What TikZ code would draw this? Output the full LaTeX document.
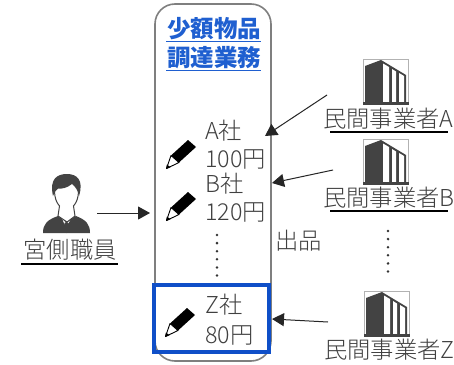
\documentclass[tikz,border=0pt]{standalone}
\usepackage{fontspec}
\setmainfont{Noto Sans CJK JP}
\newfontfamily\lightcjk{Noto Sans CJK JP Light}
\usetikzlibrary{arrows.meta}
\definecolor{inkgray}{HTML}{404040}
\definecolor{iconblack}{HTML}{434343}
\definecolor{framegray}{HTML}{7F7F7F}
\definecolor{headblue}{HTML}{1F5FD0}
\definecolor{boxblue}{HTML}{0F4FC8}
\tikzset{
  txt/.style={inner sep=0pt,text=inkgray,font=\lightcjk\fontsize{23.3}{23.3}\selectfont,anchor=west},
  head/.style={inner sep=0pt,text=headblue,font=\fontsize{23.5}{23.5}\selectfont\bfseries},
  conn/.style={draw=black!85,line width=1pt,-{Triangle[length=12pt,width=13pt]}},
  rule/.style={draw=black,line width=1.6pt},
  dotcol/.style={draw=black!80,line width=2.8pt,line cap=round,dash pattern=on 0pt off 8.1pt},
}
\newcommand{\pencilicon}[2]{%
  \begin{scope}[shift={(#1,#2)}]
    \fill[black] (22,-29) -- (30,-22) -- (13,-6.5) -- (5,-13.5) -- cycle;
    \draw[black,line width=0.9pt,fill=white,line join=round] (5,-13.5) -- (13,-6.5) -- (0.5,-0.5) -- cycle;
    \fill[black] (0,0) -- (0.9,-4.5) -- (4.5,-1.8) -- cycle;
  \end{scope}}
\newcommand{\buildingicon}[2]{%
  \begin{scope}[shift={(#1,#2)}]
    \draw[black!30,line width=0.5pt] (0,43) -- (0,0) -- (45,0) -- (45,43);
    \fill[iconblack] (2,7) -- (18,1) -- (43,16) -- (43,43) -- (2,43) -- cycle;
    \fill[white] (20,4.5) -- (26,8) -- (26,43) -- (20,43) -- cycle;
    \fill[white] (29,10) -- (33,12.5) -- (33,43) -- (29,43) -- cycle;
    \fill[white] (36,14) -- (41,17) -- (41,43) -- (36,43) -- cycle;
    \fill[iconblack] (0,43) rectangle (46,46);
  \end{scope}}
\begin{document}
\begin{tikzpicture}[x=1pt,y=-1pt]
\useasboundingbox (0,0) rectangle (454,364);
\fill[white] (0,0) rectangle (454,364);

% main rounded frame
\node[draw=framegray,line width=1.6pt,rounded corners=20pt,minimum width=116pt,minimum height=357pt,inner sep=0pt] (frame) at (213,182.5) {};

% title
\node[head] (t1) at (214,29) {少額物品};
\node[head] (t2) at (214,58) {調達業務};
\draw[headblue,line width=0.9pt] (166,41) -- (261,41) (166,70) -- (261,70);

% items
\pencilicon{166}{169}
\pencilicon{166}{221}
\pencilicon{165}{337}
\node[txt] (a1) at (205,131) {A社};
\node[txt] (a2) at (205,159) {100円};
\node[txt] (b1) at (205,184) {B社};
\node[txt] (b2) at (205,212) {120円};
\node[txt] (z1) at (205,305) {Z社};
\node[txt] (z2) at (205,335) {80円};

\draw[dotcol] (217,235) -- (217,277);
\draw[dotcol] (388,231) -- (388,272);

% highlighted box
\node[draw=boxblue,line width=4pt,minimum width=115pt,minimum height=67pt,inner sep=0pt] (zbox) at (211.5,318) {};

% official
\fill[iconblack] (43,233) .. controls (43,224) and (47,220) .. (58,216) -- (63,220) -- (66,232) -- (69,220) -- (76,216) .. controls (86,220) and (90,224) .. (90,233) -- cycle;
\fill[iconblack] (64,218) -- (69,218) -- (68.5,222) -- (69.5,231) -- (66.5,233) -- (63.5,231) -- (64.5,222) -- cycle;
\draw[white,line width=1pt] (60,214) -- (65,223) (73,214) -- (68,223);
\draw[iconblack,line width=1pt,fill=white] (58,216) -- (59.5,206) .. controls (56,202) and (55,198) .. (54.5,192) -- (54.5,182) -- (78.5,182) -- (78.5,192) .. controls (78,198) and (77,202) .. (73.5,206) -- (75,216) -- (67,222) -- cycle;
\fill[iconblack] (53,196) .. controls (49,178) and (58,174) .. (67,174) .. controls (77,174) and (84,180) .. (79,196) .. controls (78,191) and (76,187) .. (72,184) .. controls (67,188) and (62,189) .. (58,188.5) .. controls (56,190) and (54.5,192) .. (53,196) -- cycle;
\node[txt,anchor=center] (off) at (70,250) {宮側職員};
\draw[rule] (21,264) -- (118,264);

% vendors
\buildingicon{363}{59}
\buildingicon{363}{139}
\buildingicon{364}{291}
\node[txt] (va) at (323,119) {民間事業者A};
\draw[rule] (330,132) -- (448,132);
\node[txt] (vb) at (323,198) {民間事業者B};
\draw[rule] (330,211) -- (448,211);
\node[txt] (vz) at (324,350) {民間事業者Z};

\node[txt] (ship) at (275,241) {出品};

% connectors
\coordinate (offEnd) at (97,213);
\coordinate (offTip) at (150,213);
\coordinate (aEnd) at (327,95);
\coordinate (aTip) at (265,136);
\coordinate (bEnd) at (333,170);
\coordinate (bTip) at (272,183);
\coordinate (zEnd) at (328,322);
\coordinate (zTip) at (272,319);
\draw[conn] (offEnd) -- (offTip);
\draw[conn] (aEnd) -- (aTip);
\draw[conn] (bEnd) -- (bTip);
\draw[conn] (zEnd) -- (zTip);
\end{tikzpicture}
\end{document}
